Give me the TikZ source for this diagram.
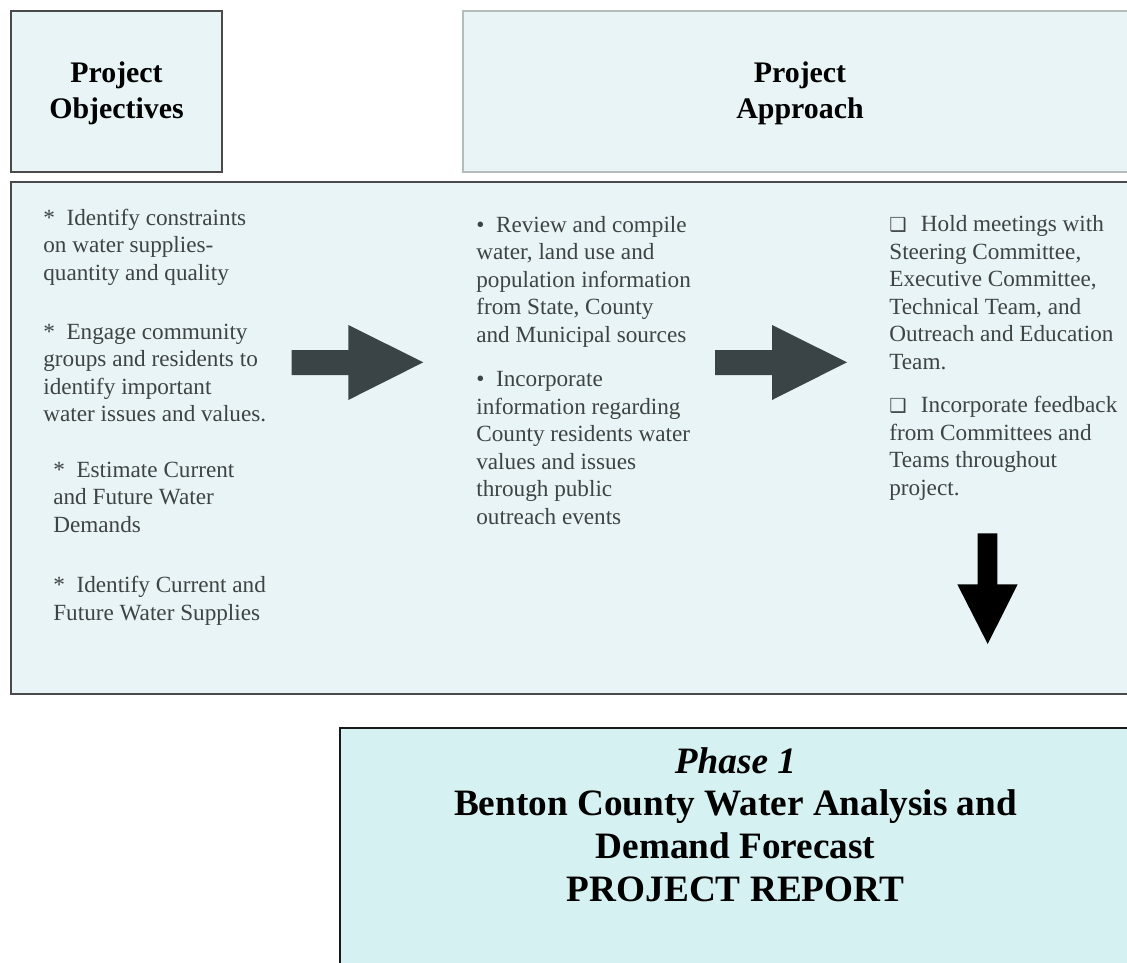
\documentclass[tikz,border=0pt]{standalone}
\usepackage{fontspec}
\setmainfont{Liberation Serif}
\newfontfamily\symfont{DejaVu Sans}
\definecolor{boxfill}{HTML}{E8F4F6}
\definecolor{phasefill}{HTML}{D6F1F1}
\definecolor{darkborder}{HTML}{4A4A4A}
\definecolor{lightborder}{HTML}{B4BCBC}
\definecolor{bodytext}{HTML}{3E4444}
\definecolor{arrowgray}{HTML}{3A4446}
\newcommand{\sqbox}{\makebox[18pt][l]{\symfont\fontsize{11}{11}\selectfont ❑}}
\begin{document}
\begin{tikzpicture}[x=0.02cm,y=-0.02cm,
  panel/.style={draw=darkborder,line width=0.85pt,fill=boxfill},
  lightpanel/.style={draw=lightborder,line width=0.6pt,fill=boxfill},
  phasepanel/.style={draw=black!90,line width=1.2pt,fill=phasefill},
  body/.style={inner sep=0pt,anchor=base west,align=left,text=bodytext,
    font=\fontsize{13.2}{15.65}\selectfont},
  title/.style={inner sep=0pt,anchor=base,align=center,text=black,
    font=\bfseries\fontsize{17}{20.2}\selectfont},
  phasetext/.style={inner sep=0pt,anchor=base,align=center,text=black,
    font=\bfseries\fontsize{21.2}{24.4}\selectfont},
  blockarrow/.style={fill=arrowgray}]
\useasboundingbox (0,0) rectangle (1127,963);
\clip (0,0) rectangle (1127,963);
% panels
\path[panel] (11,11) rectangle (222,172);
\path[lightpanel] (463,11) rectangle (1145,172);
\path[panel] (11,182) rectangle (1145,694);
\path[phasepanel] (340,728) rectangle (1131,980);
% titles (anchored at the baseline of the last line)
\node[title] (tobj) at (116.5,118.3) {Project\\Objectives};
\node[title] (tapp) at (800,118.3) {Project\\Approach};
% column 1
\node[body] (o1) at (43,280) {*\ \ Identify constraints\\on water supplies-\\quantity and quality};
\node[body] (o2) at (43,421.7) {*\ \ Engage community\\groups and residents to\\identify important\\water issues and values.};
\node[body] (o3) at (53,532) {*\ \ Estimate Current\\and Future Water\\Demands};
\node[body] (o4) at (53,620) {*\ \ Identify Current and\\Future Water Supplies};
% column 2
\node[body] (a1) at (476,342.3) {•\ \ Review and compile\\water, land use and\\population information\\from State, County\\and Municipal sources};
\node[body] (a2) at (476,524) {•\ \ Incorporate\\information regarding\\County residents water\\values and issues\\through public\\outreach events};
% column 3
\node[body] (m1) at (889,369.3) {\sqbox Hold meetings with\\Steering Committee,\\Executive Committee,\\Technical Team, and\\Outreach and Education\\Team.};
\node[body] (m2) at (889,495) {\sqbox Incorporate feedback\\from Committees and\\Teams throughout\\project.};
% arrows
\fill[blockarrow] (291.7,350) -- (348.3,350) -- (348.3,325) -- (423.3,362.3)
  -- (348.3,400) -- (348.3,375) -- (291.7,375) -- cycle;
\fill[blockarrow] (715,350) -- (772,350) -- (772,325) -- (847,362.3)
  -- (772,400) -- (772,375) -- (715,375) -- cycle;
\fill[black] (977.7,533.3) -- (997.3,533.3) -- (997.3,584.3) -- (1017.7,584.3)
  -- (987.7,644) -- (957.3,584.3) -- (977.7,584.3) -- cycle;
% phase text
\node[phasetext] (ph) at (735.5,901.7) {\itshape Phase 1\\Benton County Water Analysis and\\Demand Forecast\\PROJECT REPORT};
\end{tikzpicture}
\end{document}
